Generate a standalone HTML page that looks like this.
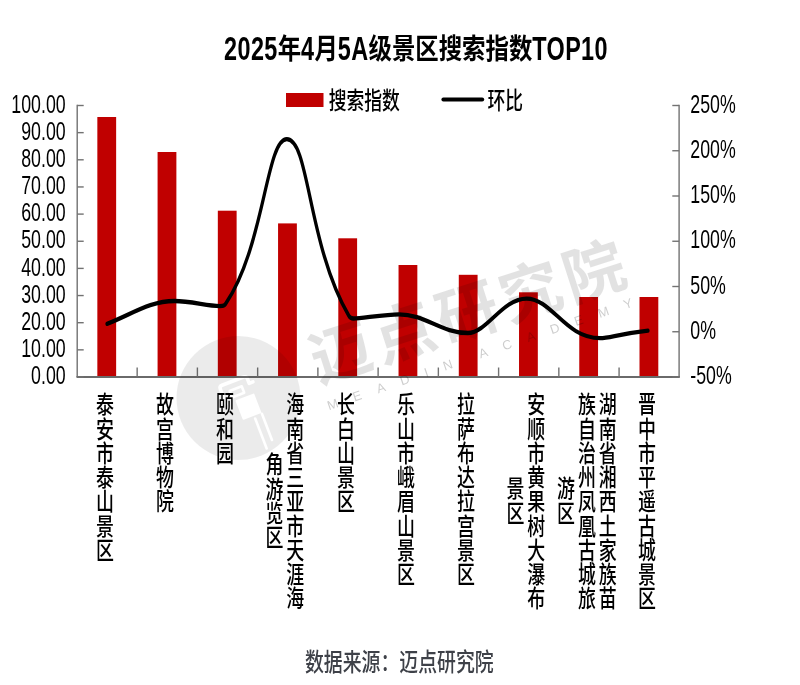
<!DOCTYPE html>
<html lang="zh"><head><meta charset="utf-8"><title>2025年4月5A级景区搜索指数TOP10</title>
<style>
html,body{margin:0;padding:0;background:#fff;}
body{width:800px;height:685px;position:relative;overflow:hidden;font-family:"Liberation Sans","Noto Sans CJK SC",sans-serif;}
svg{position:absolute;left:0;top:0;}
svg text{font-family:"Liberation Sans","Noto Sans CJK SC",sans-serif;}
#title{position:absolute;left:15.5px;top:29px;width:800px;text-align:center;white-space:nowrap;font-size:28.5px;line-height:40px;font-weight:700;color:#000;transform:scaleX(0.821);transform-origin:50% 50%;}
#title span{display:inline-block;letter-spacing:0.45px;transform:scaleY(1.18);transform-origin:50% 68%;}
.vl{position:absolute;top:391.6px;width:0;height:0;}
.vl div{position:absolute;left:0;top:0;writing-mode:vertical-rl;white-space:nowrap;text-align:center;
 font-size:24.25px;line-height:28.1px;color:#000;font-weight:500;transform:translateX(-50%) scaleX(0.74);letter-spacing:0;}
</style></head><body>
<svg width="800" height="685" viewBox="0 0 800 685">
<rect width="800" height="685" fill="#fff"/>
<g fill="#c00000">
<rect x="97.34" y="117.00" width="18.80" height="260.00"/>
<rect x="157.58" y="152.00" width="18.80" height="225.00"/>
<rect x="217.82" y="210.70" width="18.80" height="166.30"/>
<rect x="278.06" y="223.40" width="18.80" height="153.60"/>
<rect x="338.30" y="238.30" width="18.80" height="138.70"/>
<rect x="398.54" y="265.00" width="18.80" height="112.00"/>
<rect x="458.78" y="274.80" width="18.80" height="102.20"/>
<rect x="519.02" y="292.30" width="18.80" height="84.70"/>
<rect x="579.26" y="297.00" width="18.80" height="80.00"/>
<rect x="639.50" y="297.00" width="18.80" height="80.00"/>
</g>
<g stroke="#727272" stroke-width="1.4" fill="none">
<path d="M77.20 104.80 V377.00 M679.10 377.00 V104.80"/>
<path d="M76.50 377.00 H679.80" stroke="#6a6a6a" stroke-width="1.8"/>
<path d="M77.20 105.50 H83.70"/>
<path d="M77.20 132.65 H83.70"/>
<path d="M77.20 159.80 H83.70"/>
<path d="M77.20 186.95 H83.70"/>
<path d="M77.20 214.10 H83.70"/>
<path d="M77.20 241.25 H83.70"/>
<path d="M77.20 268.40 H83.70"/>
<path d="M77.20 295.55 H83.70"/>
<path d="M77.20 322.70 H83.70"/>
<path d="M77.20 349.85 H83.70"/>
<path d="M77.20 377.00 H83.70"/>
<path d="M679.10 105.50 H672.30"/>
<path d="M679.10 150.75 H672.30"/>
<path d="M679.10 196.00 H672.30"/>
<path d="M679.10 241.25 H672.30"/>
<path d="M679.10 286.50 H672.30"/>
<path d="M679.10 331.75 H672.30"/>
<path d="M679.10 377.00 H672.30"/>
<path d="M137.16 377.00 V367.50"/>
<path d="M197.40 377.00 V367.50"/>
<path d="M257.64 377.00 V367.50"/>
<path d="M317.88 377.00 V367.50"/>
<path d="M378.12 377.00 V367.50"/>
<path d="M438.36 377.00 V367.50"/>
<path d="M498.60 377.00 V367.50"/>
<path d="M558.84 377.00 V367.50"/>
<path d="M619.08 377.00 V367.50"/>
</g>
<path transform="scale(0.75,1)" d="M142.7 323.9 C176.8 313.8 200.0 301.0 232.7 301.0 C256.0 301.0 282.0 307.2 296.4 305.9 C298.1 305.8 300.0 305.2 301.3 303.3 C352.9 245.5 354.9 139.2 382.4 139.2 C412.5 139.2 409.9 244.4 465.2 315.9 C466.5 317.6 468.0 318.4 470.9 318.5 C479.3 318.8 512.8 314.3 532.0 314.3 C566.7 314.3 588.3 333.0 624.0 333.0 C648.8 333.0 669.9 298.6 702.1 298.6 C736.1 298.6 753.6 338.2 800.0 338.2 C813.2 338.2 822.7 334.3 864.0 330.7" fill="none" stroke="#000" stroke-width="4.3" stroke-linecap="round" stroke-linejoin="round"/>
<rect x="286" y="93" width="37.5" height="14" fill="#c00000"/>
<path d="M443.4 99.6 H482.2" stroke="#000" stroke-width="4" stroke-linecap="round"/>
<text transform="translate(328.70,108.90) scale(0.735,1)" font-size="24.2" font-weight="500" text-anchor="start" fill="#000">搜索指数</text>
<text transform="translate(487.60,108.90) scale(0.735,1)" font-size="24.2" font-weight="500" text-anchor="start" fill="#000">环比</text>
<text transform="translate(65.70,112.70) scale(0.7,1)" font-size="25.4" font-weight="400" text-anchor="end" fill="#000">100.00</text>
<text transform="translate(65.70,139.85) scale(0.7,1)" font-size="25.4" font-weight="400" text-anchor="end" fill="#000">90.00</text>
<text transform="translate(65.70,167.00) scale(0.7,1)" font-size="25.4" font-weight="400" text-anchor="end" fill="#000">80.00</text>
<text transform="translate(65.70,194.15) scale(0.7,1)" font-size="25.4" font-weight="400" text-anchor="end" fill="#000">70.00</text>
<text transform="translate(65.70,221.30) scale(0.7,1)" font-size="25.4" font-weight="400" text-anchor="end" fill="#000">60.00</text>
<text transform="translate(65.70,248.45) scale(0.7,1)" font-size="25.4" font-weight="400" text-anchor="end" fill="#000">50.00</text>
<text transform="translate(65.70,275.60) scale(0.7,1)" font-size="25.4" font-weight="400" text-anchor="end" fill="#000">40.00</text>
<text transform="translate(65.70,302.75) scale(0.7,1)" font-size="25.4" font-weight="400" text-anchor="end" fill="#000">30.00</text>
<text transform="translate(65.70,329.90) scale(0.7,1)" font-size="25.4" font-weight="400" text-anchor="end" fill="#000">20.00</text>
<text transform="translate(65.70,357.05) scale(0.7,1)" font-size="25.4" font-weight="400" text-anchor="end" fill="#000">10.00</text>
<text transform="translate(65.70,384.20) scale(0.7,1)" font-size="25.4" font-weight="400" text-anchor="end" fill="#000">0.00</text>
<text transform="translate(690.30,112.70) scale(0.7,1)" font-size="25.4" font-weight="400" text-anchor="start" fill="#000">250%</text>
<text transform="translate(690.30,157.95) scale(0.7,1)" font-size="25.4" font-weight="400" text-anchor="start" fill="#000">200%</text>
<text transform="translate(690.30,203.20) scale(0.7,1)" font-size="25.4" font-weight="400" text-anchor="start" fill="#000">150%</text>
<text transform="translate(690.30,248.45) scale(0.7,1)" font-size="25.4" font-weight="400" text-anchor="start" fill="#000">100%</text>
<text transform="translate(690.30,293.70) scale(0.7,1)" font-size="25.4" font-weight="400" text-anchor="start" fill="#000">50%</text>
<text transform="translate(690.30,338.95) scale(0.7,1)" font-size="25.4" font-weight="400" text-anchor="start" fill="#000">0%</text>
<text transform="translate(690.30,384.20) scale(0.7,1)" font-size="25.4" font-weight="400" text-anchor="start" fill="#000">-50%</text>
<text transform="translate(399.30,671.10) scale(0.77,1)" font-size="24.5" font-weight="500" text-anchor="middle" fill="#3e4148">数据来源：迈点研究院</text>
<defs><mask id="lm" maskUnits="userSpaceOnUse" x="170" y="330" width="140" height="140"><rect x="170" y="330" width="140" height="140" fill="#fff"/><g transform="translate(244,395) rotate(-21)" fill="none" stroke="#000" stroke-width="3.6" stroke-linejoin="round" stroke-linecap="round"><path d="M-20 2 V-14 Q-20 -17 -17 -17 H6 Q9 -17 9 -14 V-9 H13"/><path d="M-12 -9 H1 V-2 H-12 Z" stroke-width="2.6"/><path d="M-9 3 H9 V22 H-9 Z" fill="#000" stroke-width="2"/><path d="M2 26 L2 58 M10 24 L10 52" stroke-width="2.6"/></g></mask></defs>
<g id="wm" fill="#000" fill-opacity="0.115">
<circle cx="238.5" cy="398" r="62" mask="url(#lm)" fill-opacity="0.078"/>
<text transform="translate(318.5,383.5) rotate(-17.8)" font-size="61.5" font-weight="700" letter-spacing="4.9">迈点研究院</text>
<text transform="translate(329.0,410.2) rotate(-18.8)" font-size="13" font-weight="400" letter-spacing="16.2" word-spacing="-6.75" fill-opacity="0.2">MEADIN ACADEMY</text>
</g>
</svg>
<div id="title"><span>2025</span>年<span>4</span>月<span>5A</span>级景区搜索指数<span>TOP10</span></div>
<div class="vl" style="left:102.84px"><div>泰安市泰山景区</div></div>
<div class="vl" style="left:163.08px"><div>故宫博物院</div></div>
<div class="vl" style="left:223.32px"><div>颐和园</div></div>
<div class="vl" style="left:283.16px"><div>海南省三亚市天涯海<br>角游览区</div></div>
<div class="vl" style="left:343.80px"><div>长白山景区</div></div>
<div class="vl" style="left:404.04px"><div>乐山市峨眉山景区</div></div>
<div class="vl" style="left:464.28px"><div>拉萨布达拉宫景区</div></div>
<div class="vl" style="left:524.12px"><div>安顺市黄果树大瀑布<br>景区</div></div>
<div class="vl" style="left:585.26px"><div>湖南省湘西土家族苗<br>族自治州凤凰古城旅<br>游区</div></div>
<div class="vl" style="left:645.00px"><div>晋中市平遥古城景区</div></div>
</body></html>
